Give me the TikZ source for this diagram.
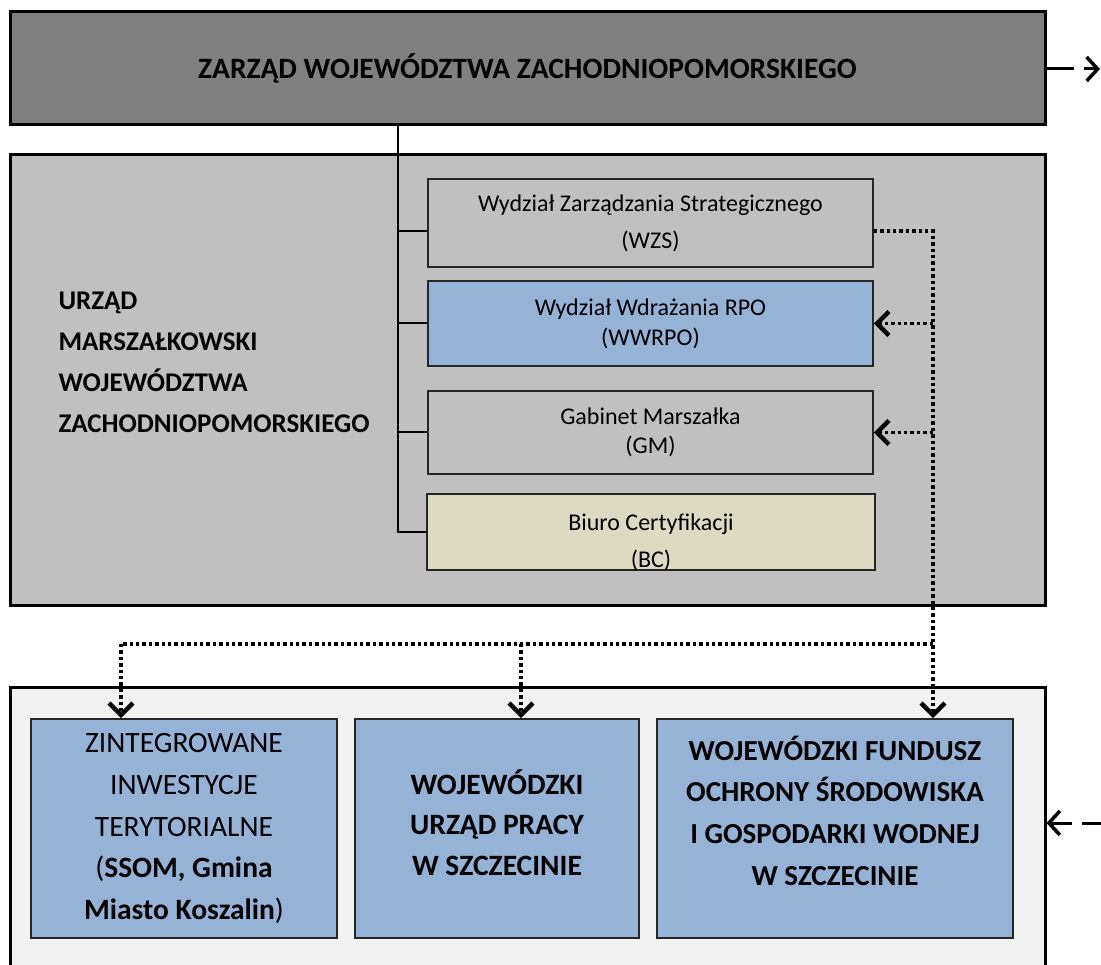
\documentclass[tikz,border=0pt]{standalone}
\usepackage{fontspec}
\setmainfont{Carlito}
\usetikzlibrary{arrows.meta,calc}

\definecolor{darkgr}{HTML}{808080}
\definecolor{midgr}{HTML}{C0C0C0}
\definecolor{paleblue}{HTML}{95B3D7}
\definecolor{sand}{HTML}{DDD9C3}
\definecolor{offwhite}{HTML}{F2F2F2}

\begin{document}
\begin{tikzpicture}[x=1pt,y=-1pt,
  frame/.style={draw=black,line width=3pt,inner sep=0pt},
  unit/.style={draw=black!85,line width=1.6pt,inner sep=0pt,align=center,
    font=\fontsize{24}{37}\selectfont},
  agency/.style={draw=black!85,line width=1.6pt,inner sep=0pt,align=center,
    fill=paleblue,minimum height=219pt,font=\fontsize{29.5}{41.7}\selectfont},
  tree/.style={line width=2pt},
  dotline/.style={line width=3.4pt,dash pattern=on 3.4pt off 3pt},
  link/.style={dotline,-{Straight Barb[length=12pt,width=24pt,line width=4.5pt]}},
  ext/.style={line width=3pt,dash pattern=on 27pt off 10pt,
    -{Straight Barb[length=11pt,width=24pt,line width=3.5pt]}}]
  \useasboundingbox (0,0) rectangle (1101,965);

  % outer frames
  \node[frame,fill=darkgr,minimum width=1035pt,minimum height=113pt,
    font=\fontsize{29.5}{34}\selectfont\bfseries] (zarzad) at (527.5,68.5)
    {ZARZĄD WOJEWÓDZTWA ZACHODNIOPOMORSKIEGO};
  \node[frame,fill=midgr,minimum width=1035pt,minimum height=450pt] (urzad) at (527.5,380) {};
  \node[frame,fill=offwhite,minimum width=1035pt,minimum height=300pt] (lower) at (527.5,837) {};

  \node[anchor=west,align=left,font=\fontsize{27}{41}\selectfont\bfseries] (urzadtxt) at (55,362)
    {URZĄD\\MARSZAŁKOWSKI\\WOJEWÓDZTWA\\ZACHODNIOPOMORSKIEGO};

  % departments
  \node[unit,fill=midgr,minimum width=445pt,minimum height=88pt] (wzs) at (650.5,223)
    {Wydział Zarządzania Strategicznego\\(WZS)};
  \node[unit,fill=paleblue,minimum width=445pt,minimum height=85pt,
    font=\fontsize{24}{30}\selectfont] (wwrpo) at (650.5,323.5)
    {Wydział Wdrażania RPO\\(WWRPO)};
  \node[unit,fill=midgr,minimum width=445pt,minimum height=83pt,
    font=\fontsize{24}{29}\selectfont] (gm) at (650.5,432.5)
    {Gabinet Marszałka\\(GM)};
  \node[unit,fill=sand,minimum width=448pt,minimum height=76pt] (bc) at (651,532) {};
  \begin{scope}
    \clip ([shift={(1pt,-2pt)}]bc.south west) rectangle ([shift={(-1pt,1pt)}]bc.north east);
    \node[align=center,font=\fontsize{24}{37}\selectfont] (bctxt) at ([yshift=-10pt]bc.center)
      {Biuro Certyfikacji\\(BC)};
  \end{scope}

  % agencies
  \node[agency,minimum width=306pt] (zit) at (184,828.5)
    {ZINTEGROWANE\\INWESTYCJE\\TERYTORIALNE\\(\textbf{SSOM, Gmina}\\\textbf{Miasto Koszalin})};
  \node[agency,minimum width=284pt] (wup) at (497,828.5) {};
  \node[agency,minimum width=356pt] (wfos) at (835,828.5) {};
  \node[align=center,font=\fontsize{29.5}{40.5}\selectfont\bfseries] (wuptxt) at ([yshift=6pt]wup.center)
    {WOJEWÓDZKI\\URZĄD PRACY\\W SZCZECINIE};
  \node[align=center,font=\fontsize{29}{41.7}\selectfont\bfseries] (wfostxt) at ([yshift=18pt]wfos.center)
    {WOJEWÓDZKI FUNDUSZ\\OCHRONY ŚRODOWISKA\\I GOSPODARKI WODNEJ\\W SZCZECINIE};

  % hierarchy
  \coordinate (spine) at (398,0);
  \draw[tree] (spine |- zarzad.south) |- (bc.west);
  \draw[tree] (spine |- wwrpo.west) -- (wwrpo.west);
  \draw[tree] (spine |- gm.west) -- (gm.west);
  \draw[tree] ([yshift=-8pt]spine |- wzs.west) -- ([yshift=-8pt]wzs.west);

  % dotted links
  \coordinate (drop) at (933,0);
  \coordinate (r1) at (121,644);
  \coordinate (r2) at (521,644);
  \draw[link] ([yshift=-8pt]wzs.east) -| (drop |- wfos.north);
  \draw[link] (drop |- wwrpo.east) -- (wwrpo.east);
  \draw[link] (drop |- gm.east) -- (gm.east);
  \draw[dotline] (drop |- r1) -- (r1);
  \draw[link] (r1) -- (r1 |- zit.north);
  \draw[link] (r2) -- (r2 |- wup.north);

  % external
  \coordinate (extout) at (1100,69);
  \coordinate (extin) at (1109,823);
  \draw[ext] (zarzad.east |- extout) -- (extout);
  \draw[ext] (extin) -- (extin -| lower.east);
\end{tikzpicture}
\end{document}
